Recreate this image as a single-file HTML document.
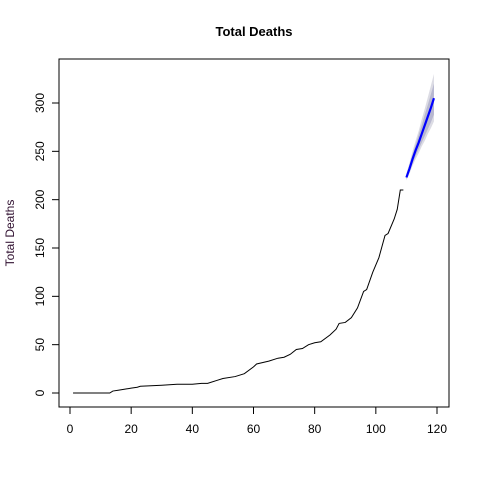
<!DOCTYPE html>
<html><head><meta charset="utf-8"><style>
body{margin:0;background:#fff}
svg{display:block;font-family:"Liberation Sans",Arial,sans-serif}
</style></head><body>
<svg id="chart" width="480" height="480" viewBox="0 0 480 480">
<rect width="480" height="480" fill="#fff"/>
<text x="254" y="36" text-anchor="middle" font-size="13" font-weight="bold">Total Deaths</text>
<text transform="translate(14,233) rotate(-90)" text-anchor="middle" font-size="12" fill="#301030">Total Deaths</text>
<g id="bands"></g>
<g id="series"></g>
<rect x="59" y="59" width="390" height="348" fill="none" stroke="#000" stroke-width="1"/>
<g id="axes"></g>
</svg>
<script>
const histDays=[1,13,14,16,18,20,22,23,30,35,40,43,45,48,50,54,57,60,61,65,68,70,72,74,76,78,80,82,85,87,88,90,92,94,96,97,99,101,103,104,106,107,108,109];
const histVals=[0,0,2,3,4,5,6,7,8,9,9,10,10,13,15,17,20,27,30,33,36,37,40,45,46,50,52,53,60,66,72,73,78,88,105,107,125,140,163,165,180,190,210,210];
const fcDays=[110,111,112,113,114,115,116,117,118,119];
const fcMean=[223,232,242,251,259,268,277,286,295,305];
const fcLo80=[221,229,237,245,252,259,266,273,280,288];
const fcHi80=[226,236,247,257,267,277,288,298,309,320];
const fcLo95=[220,227,235,242,248,255,261,268,274,281];
const fcHi95=[227,238,250,261,271,283,294,306,318,330];
const xTicks=[0,20,40,60,80,100,120];
const yTicks=[0,50,100,150,200,250,300];
const NS='http://www.w3.org/2000/svg';
const X=v=>70+v*(437-70)/120;
const Y=v=>393-v*(393-103)/300;
function mk(tag,attrs,parent){const e=document.createElementNS(NS,tag);for(const k in attrs)e.setAttribute(k,attrs[k]);parent.appendChild(e);return e;}
const bands=document.getElementById('bands'),series=document.getElementById('series'),axes=document.getElementById('axes');
function band(lo,hi,fill,name){
  let d='M'+fcDays.map((x,i)=>X(x)+','+Y(hi[i])).join('L');
  for(let i=fcDays.length-1;i>=0;i--)d+='L'+X(fcDays[i])+','+Y(lo[i]);
  const p=mk('path',{d:d+'Z',fill:fill},bands);
  
  
}
band(fcLo95,fcHi95,'#dcdce4','band-95');
band(fcLo80,fcHi80,'#b8b8d0','band-80');
const h=mk('polyline',{points:histDays.map((x,i)=>X(x)+','+Y(histVals[i])).join(' '),fill:'none',stroke:'#000','stroke-width':1},series);


const f=mk('polyline',{points:fcDays.map((x,i)=>X(x)+','+Y(fcMean[i])).join(' '),fill:'none',stroke:'#0000ff','stroke-width':2.2},series);


mk('line',{x1:X(0),x2:X(120),y1:407,y2:407,stroke:'#000'},axes);
mk('line',{x1:59,x2:59,y1:Y(0),y2:Y(300),stroke:'#000'},axes);
xTicks.forEach(t=>{
  mk('line',{x1:X(t),x2:X(t),y1:407,y2:414,stroke:'#000'},axes);
  const tx=mk('text',{x:X(t),y:433,'text-anchor':'middle','font-size':12},axes);
  tx.textContent=t;
  
  
});
yTicks.forEach(t=>{
  mk('line',{x1:52,x2:59,y1:Y(t),y2:Y(t),stroke:'#000'},axes);
  const tx=mk('text',{transform:'translate(44,'+Y(t)+') rotate(-90)','text-anchor':'middle','font-size':12},axes);
  tx.textContent=t;
  
  
});
</script>
</body></html>
